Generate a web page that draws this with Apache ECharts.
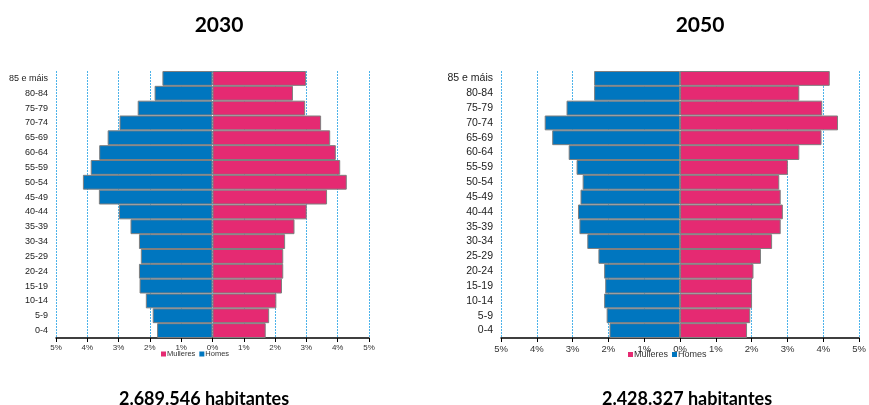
<!DOCTYPE html>
<html>
<head>
<meta charset="utf-8">
<script src="https://cdn.jsdelivr.net/npm/echarts@6/dist/echarts.min.js"></script>
<style>
  html, body { margin: 0; padding: 0; background: #fff; }
  #chart { width: 869px; height: 405px; }
</style>
</head>
<body>
<div id="chart"></div>
<script>
// Age groups, bottom (youngest) to top (oldest)
const ageGroups = ['0-4', '5-9', '10-14', '15-19', '20-24', '25-29', '30-34', '35-39', '40-44',
  '45-49', '50-54', '55-59', '60-64', '65-69', '70-74', '75-79', '80-84', '85 e máis'];

// Share of total population (%) per age group
const homes2030 = [1.77, 1.91, 2.13, 2.33, 2.35, 2.29, 2.35, 2.62, 2.99, 3.63, 4.14, 3.89, 3.62, 3.35, 2.97, 2.39, 1.85, 1.60];
const mulleres2030 = [1.70, 1.81, 2.04, 2.22, 2.26, 2.26, 2.32, 2.62, 3.01, 3.66, 4.29, 4.08, 3.94, 3.76, 3.47, 2.96, 2.57, 2.99];
const homes2050 = [1.97, 2.05, 2.12, 2.09, 2.12, 2.28, 2.59, 2.81, 2.85, 2.78, 2.72, 2.89, 3.11, 3.57, 3.78, 3.17, 2.40, 2.40];
const mulleres2050 = [1.87, 1.96, 2.01, 2.01, 2.05, 2.26, 2.57, 2.81, 2.87, 2.81, 2.77, 3.01, 3.33, 3.95, 4.41, 3.97, 3.33, 4.18];

const years = ['2030', '2050'];
const totals = ['2.689.546 habitantes', '2.428.327 habitantes'];
const xTicks = { min: -5, max: 5, interval: 1 };

const BLUE = '#0076bf';
const PINK = '#e52a72';
const EDGE = '#7f7f7f';
const GRIDLINE = '#4db3ea';

const chart = echarts.init(document.getElementById('chart'));

const grids = [
  { left: 56, right: 500, top: 71, bottom: 67 },
  { left: 501, right: 5, top: 71, bottom: 67 }
];
// Per-panel text sizing and placement (the 2050 panel is drawn wider)
const panel = [
  { yFont: 9, xFont: 8, xMargin: 6, legFont: 7.5, legLeft: 161, yearX: 214, totalX: 199 },
  { yFont: 10.5, xFont: 9.5, xMargin: 6, legFont: 9, legLeft: 628, yearX: 695, totalX: 682 }
];

function xAxis(i) {
  return {
    type: 'value', gridIndex: i, min: xTicks.min, max: xTicks.max, interval: xTicks.interval,
    axisLine: { show: true, onZero: false, lineStyle: { color: '#000', width: 1.5 } },
    axisTick: { show: true, length: 4, lineStyle: { color: '#000' } },
    axisLabel: { fontSize: panel[i].xFont, color: '#333', margin: panel[i].xMargin,
      fontFamily: 'Liberation Sans', formatter: v => Math.abs(v) + '%' },
    splitLine: { show: true, lineStyle: { color: GRIDLINE, type: [2, 1], width: 1 } }
  };
}
function yAxis(i) {
  return {
    type: 'category', gridIndex: i, data: ageGroups,
    axisLine: { show: false }, axisTick: { show: false },
    axisLabel: { fontSize: panel[i].yFont, color: '#222', margin: 8, fontFamily: 'Liberation Sans' }
  };
}
function bars(name, values, color, i, negate) {
  return {
    name: name, type: 'bar', stack: 'p' + i, xAxisIndex: i, yAxisIndex: i,
    barCategoryGap: '0%', barWidth: '100%',
    itemStyle: { color: color, borderColor: EDGE, borderWidth: 1 },
    data: values.map(v => negate ? -v : v)
  };
}

const titles = [];
years.forEach((y, i) => {
  titles.push({ text: y, left: panel[i].yearX, top: 10, textAlign: 'center',
    textStyle: { fontSize: 21, fontWeight: 'bold', color: '#000', fontFamily: 'Lato' } });
  titles.push({ text: totals[i], left: panel[i].totalX, top: 385, textAlign: 'center',
    textStyle: { fontSize: 18, fontWeight: 'bold', color: '#000', fontFamily: 'Lato' } });
});

chart.setOption({
  animation: false,
  title: titles,
  legend: [0, 1].map(i => ({
    data: ['Mulleres', 'Homes'], left: panel[i].legLeft, top: 350, padding: 0,
    icon: 'rect', itemWidth: 5, itemHeight: 5, itemGap: 4,
    itemStyle: { borderWidth: 0 },
    textStyle: { fontSize: panel[i].legFont, color: '#333', fontFamily: 'Liberation Sans',
      padding: [0, 0, 0, -4] }
  })),
  grid: grids,
  xAxis: [xAxis(0), xAxis(1)],
  yAxis: [yAxis(0), yAxis(1)],
  series: [
    bars('Homes', homes2030, BLUE, 0, true),
    bars('Mulleres', mulleres2030, PINK, 0, false),
    bars('Homes', homes2050, BLUE, 1, true),
    bars('Mulleres', mulleres2050, PINK, 1, false)
  ]
});
</script>
</body>
</html>
